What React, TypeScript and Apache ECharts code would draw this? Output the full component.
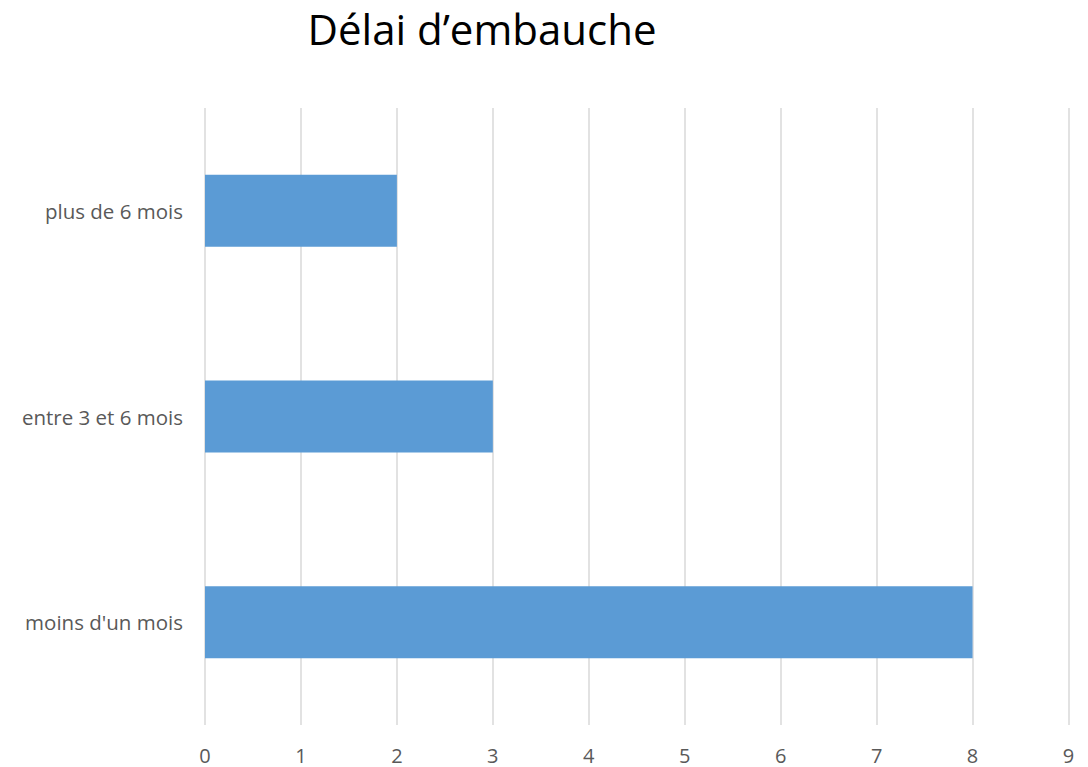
import React, { useEffect, useRef } from "react";
import * as echarts from "echarts";

const categories = ["moins d'un mois", "entre 3 et 6 mois", "plus de 6 mois"];
const values = [8, 3, 2];
const titleText = "Délai d\u2019embauche";

export default function App() {
  const ref = useRef<HTMLDivElement>(null);
  useEffect(() => {
    if (!ref.current) return;
    const chart = echarts.init(ref.current, undefined, { renderer: "svg" });
    chart.setOption({
      animation: false,
      backgroundColor: "#ffffff",
      title: {
        text: titleText,
        left: 482,
        top: 3,
        padding: 0,
        textAlign: "center",
        textStyle: {
          fontFamily: "Open Sans",
          fontSize: 42,
          lineHeight: 50,
          fontWeight: "normal",
          color: "#000000",
        },
      },
      grid: { left: 205, right: 19.5, top: 108, bottom: 42, containLabel: false },
      xAxis: {
        type: "value",
        min: 0,
        max: 9,
        interval: 1,
        axisLine: { show: false },
        axisTick: { show: false },
        axisLabel: {
          margin: 20,
          fontFamily: "Open Sans",
          fontSize: 20,
          color: "#595959",
        },
        splitLine: { show: true, lineStyle: { color: "#d9d9d9", width: 1.5 } },
      },
      yAxis: {
        type: "category",
        data: categories,
        axisLine: { show: false },
        axisTick: { show: false },
        axisLabel: {
          margin: 22,
          fontFamily: "Open Sans",
          fontSize: 20.5,
          color: "#595959",
        },
      },
      series: [
        {
          type: "bar",
          data: values,
          barWidth: 72,
          itemStyle: { color: "#5b9bd5" },
        },
      ],
    });
    return () => chart.dispose();
  }, []);
  return (
    <div
      ref={ref}
      style={{ position: "fixed", left: 0, top: 0, width: 1088, height: 767 }}
    />
  );
}
